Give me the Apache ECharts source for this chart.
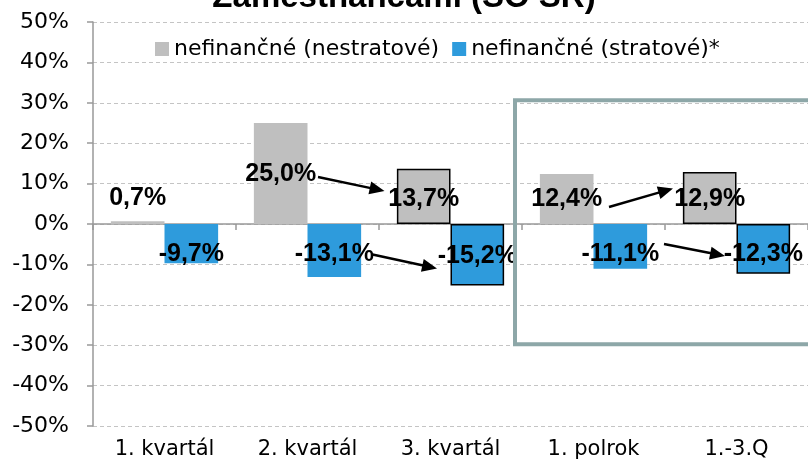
<!DOCTYPE html>
<html><head><meta charset="utf-8">
<script src="https://cdn.jsdelivr.net/npm/echarts@6/dist/echarts.min.js"></script>
<style>html,body{margin:0;padding:0;background:#fff}#c{width:808px;height:462px}</style>
</head><body><div id="c"></div>
<script>
// ---- data ----
const titleText = 'Zamestnancami (SO SR)';
const categories = ['1. kvartál', '2. kvartál', '3. kvartál', '1. polrok', '1.-3.Q'];
const seriesNames = ['nefinančné (nestratové)', 'nefinančné (stratové)*'];
const grayValues = [0.7, 25.0, 13.7, 12.4, 12.9];
const blueValues = [-9.7, -13.1, -15.2, -11.1, -12.3];
const yMin = -50, yMax = 50, yStep = 10;

// ---- styling (not data) ----
const borderedIdx = [2, 4];
const grayLabelDy = [-25.5, -49.5, -25, -25, -25];
const blueLabelDy = [30, 30, 32.5, 30.5, 30.5];
// [fromCat, dx, dyFromZero, toCat, dx, dyFromZero]
const arrowSpecs = [
  [1, 10.5, -47, 2, -66, -33],
  [1, 65, 30.5, 2, -13.5, 44.5],
  [3, 15.5, -17, 4, -63.5, -35.5],
  [3, 70.5, 20, 4, -11.5, 32]
];

const fmt = v => v.toFixed(1).replace('.', ',') + '%';
const REG = 'DejaVu Sans';
const BOLD = 'Liberation Sans';

function mkData(vals) {
  return vals.map((v, i) => ({
    value: v,
    itemStyle: borderedIdx.includes(i) ? {borderColor: '#000', borderWidth: 1.5} : {borderWidth: 0}
  }));
}

const chart = echarts.init(document.getElementById('c'), null, {renderer: 'canvas'});
const labelStyle = {
  show: true, position: 'inside', color: '#000', fontFamily: BOLD, fontWeight: 'bold', fontSize: 25,
  formatter: p => fmt(p.value)
};
const option = {
  animation: false,
  backgroundColor: '#fff',
  title: {
    text: titleText, left: 'center', top: -24,
    textStyle: {fontFamily: BOLD, fontWeight: 'bold', fontSize: 33, color: '#000', lineHeight: 33}
  },
  legend: {
    data: seriesNames, left: 150, top: 33, itemWidth: 14, itemHeight: 14, itemGap: 13, icon: 'rect',
    textStyle: {fontFamily: REG, fontSize: 22, color: '#000'}
  },
  grid: {left: 93, right: 0, top: 22, bottom: 36, containLabel: false},
  xAxis: [{
    type: 'category', data: categories,
    axisLine: {show: true, onZero: true, lineStyle: {color: '#999', width: 1.5}},
    axisTick: {show: true, length: 6, lineStyle: {color: '#999', width: 1.5}},
    axisLabel: {show: false}, splitLine: {show: false}
  }, {
    type: 'category', data: categories, position: 'bottom',
    axisLine: {show: false, onZero: false}, axisTick: {show: false},
    axisLabel: {show: true, color: '#000', fontFamily: REG, fontSize: 21, margin: 13},
    splitLine: {show: false}
  }],
  yAxis: {
    type: 'value', min: yMin, max: yMax, interval: yStep,
    axisLine: {show: true, lineStyle: {color: '#999', width: 1.5}},
    axisTick: {show: true, length: 6, lineStyle: {color: '#999', width: 1.5}},
    axisLabel: {formatter: '{value}%', color: '#000', fontFamily: REG, fontSize: 22, margin: 24},
    splitLine: {show: true, lineStyle: {color: '#c4c4c4', width: 1, type: [4, 3]}}
  },
  series: [{
    id: 's0', name: seriesNames[0], type: 'bar', xAxisIndex: 0, data: mkData(grayValues),
    itemStyle: {color: '#bfbfbf'}, barGap: '0%', barCategoryGap: '25%', label: labelStyle
  }, {
    id: 's1', name: seriesNames[1], type: 'bar', xAxisIndex: 0, data: mkData(blueValues),
    itemStyle: {color: '#2e9bdc'}, barGap: '0%', barCategoryGap: '25%', label: labelStyle
  }]
};
chart.setOption(option);

// second pass: place labels, arrows and frame using the chart's own scales
const px = (c, v) => chart.convertToPixel({gridIndex: 0}, [c, v]);
const zeroY = px(0, 0)[1];
const catX = i => px(i, 0)[0];
const catW = catX(1) - catX(0);

function withOffsets(vals, dys) {
  return mkData(vals).map((d, i) => {
    const vy = px(i, vals[i])[1];
    const centerY = (zeroY + vy) / 2;
    d.label = {offset: [0, zeroY + dys[i] - centerY]};
    return d;
  });
}

function arrow(x1, y1, x2, y2) {
  const a = Math.atan2(y2 - y1, x2 - x1), c = Math.cos(a), s = Math.sin(a);
  const L = 15, W = 6.5;
  const bx = x2 - L * c, by = y2 - L * s;
  return [{
    type: 'line', shape: {x1, y1, x2: bx + c, y2: by + s}, style: {stroke: '#000', lineWidth: 2.5}, z: 100
  }, {
    type: 'polygon', shape: {points: [[x2, y2], [bx - W * s, by + W * c], [bx + W * s, by - W * c]]},
    style: {fill: '#000'}, z: 100
  }];
}

const graphics = [];
arrowSpecs.forEach(s => {
  graphics.push(...arrow(catX(s[0]) + s[1], zeroY + s[2], catX(s[3]) + s[4], zeroY + s[5]));
});
const frameLeft = catX(3) - catW / 2 - 7;
const frameTop = px(0, 30)[1] - 2.5;
const frameBottom = px(0, -30)[1] - 1;
graphics.push({
  type: 'rect', shape: {x: frameLeft, y: frameTop, width: 820 - frameLeft, height: frameBottom - frameTop},
  style: {stroke: '#8da7a8', lineWidth: 4, fill: 'none'}, z: 90
});

chart.setOption({
  series: [{id: 's0', data: withOffsets(grayValues, grayLabelDy)},
           {id: 's1', data: withOffsets(blueValues, blueLabelDy)}],
  graphic: graphics
});
</script></body></html>
